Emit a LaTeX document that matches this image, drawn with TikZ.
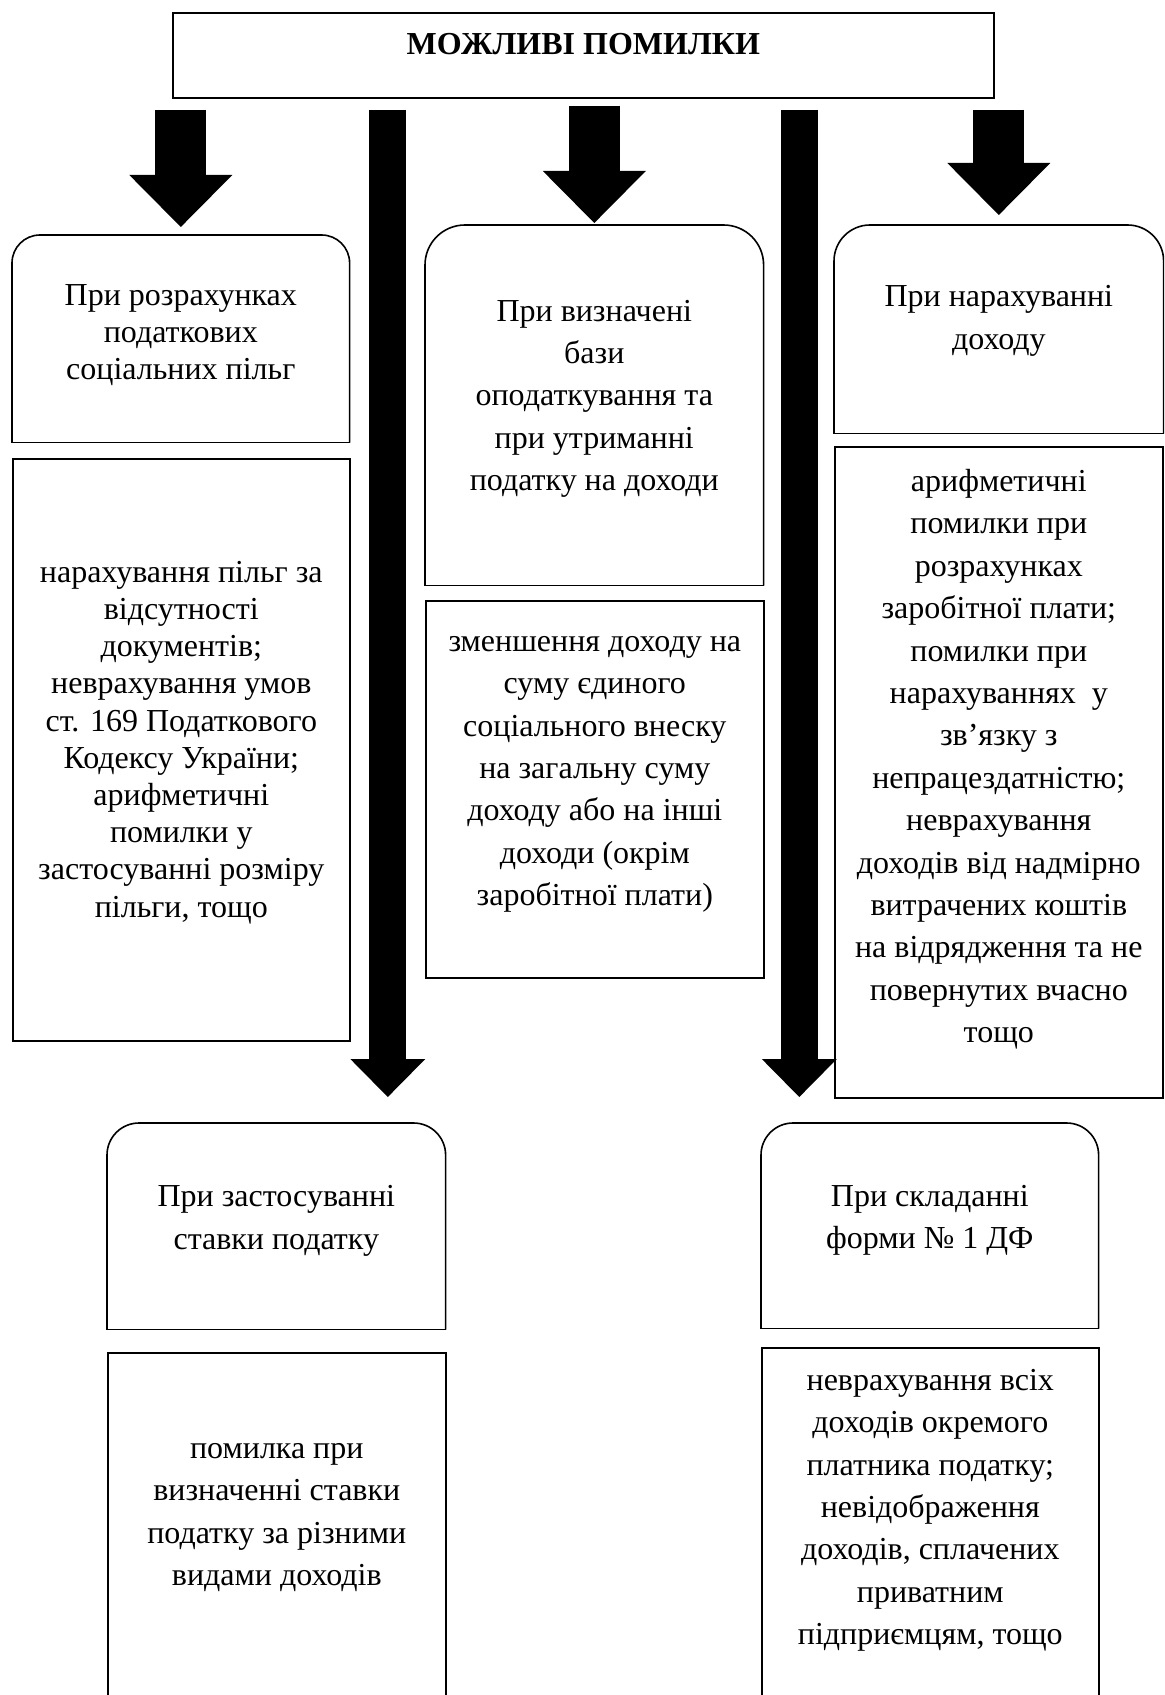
\documentclass[tikz,border=0pt]{standalone}
\usepackage{fontspec}
\setmainfont{Liberation Serif}
\usetikzlibrary{arrows.meta, positioning, calc}

\tikzset{
  box/.style={draw, line width=0.8pt, inner sep=0pt, align=center, anchor=north west,
    font=\fontsize{16}{21.2}\selectfont,
    execute at begin node=\strut, execute at end node=\strut},
  head/.style={box, draw=none},
  tight/.style={font=\fontsize{16}{18.6}\selectfont},
  dims/.style 2 args={minimum width=#1, minimum height=#2},
  lift/.style={text depth=#1},
  frame/.style={line width=0.8pt},
  fat/.style={line width=25.5pt, -{Triangle[length=26pt, width=51.5pt, line width=0pt]}, shorten <=5.5pt},
  bar/.style={line width=18.5pt, -{Triangle[length=19pt, width=37.5pt, line width=0pt]}, shorten <=5.5pt},
}

\begin{document}
\begin{tikzpicture}[x=1pt, y=-1pt]
    \useasboundingbox (0,0) rectangle (582,847.5);
    \clip (0,0) rectangle (582,847.5);
    % заголовок
    \node[box, dims={410.5pt}{42.5pt}, lift=15.7pt] (title) at (86,6) {\textbf{МОЖЛИВІ ПОМИЛКИ}};
    % ліва колонка
    \node[head, tight, dims={168pt}{103pt}, lift=6.9pt] (a1) at (6,117.5) {При розрахунках\\податкових\\соціальних пільг};
    \node[box, tight, dims={168.5pt}{291pt}, lift=10.7pt] (a2) at (6,229) {нарахування пільг за\\відсутності\\документів;\\неврахування умов\\ст. 169 Податкового\\Кодексу України;\\арифметичні\\помилки у\\застосуванні розміру\\пільги, тощо};
    % середня колонка
    \node[head, dims={168.5pt}{179.5pt}, lift=9.9pt] (b1) at (212.5,112.5) {При визначені\\бази\\оподаткування та\\при утриманні\\податку на доходи};
    \node[box, dims={169pt}{188.5pt}, lift=18.4pt] (b2) at (212.5,300) {зменшення доходу на\\суму єдиного\\соціального внеску\\на загальну суму\\доходу або на інші\\доходи (окрім\\заробітної плати)};
    % права колонка
    \node[head, dims={164pt}{103.5pt}, lift=11.9pt] (c1) at (417,112.5) {При нарахуванні\\доходу};
    \node[box, dims={164pt}{325.5pt}, lift=16.4pt] (c2) at (417,223) {арифметичні\\помилки при\\розрахунках\\заробітної плати;\\помилки при\\нарахуваннях\ \ у\\зв’язку з\\непрацездатністю;\\неврахування\\доходів від надмірно\\витрачених коштів\\на відрядження та не\\повернутих вчасно\\тощо};
    % нижній ряд
    \node[head, dims={168.5pt}{102.5pt}, lift=8.9pt] (d1) at (53.5,561.5) {При застосуванні\\ставки податку};
    \node[box, dims={169pt}{184pt}, lift=22.4pt] (d2) at (53.5,676) {помилка при\\визначенні ставки\\податку за різними\\видами доходів};
    \node[head, dims={168pt}{102pt}, lift=8.9pt] (e1) at (380.5,561.5) {При складанні\\форми № 1 ДФ};
    \node[box, dims={168.5pt}{186.5pt}, lift=27.5pt] (e2) at (380.5,673.5) {неврахування всіх\\доходів окремого\\платника податку;\\невідображення\\доходів, сплачених\\приватним\\підприємцям, тощо};
    % заокруглені верхні кути
    \foreach \n/\r in {a1/14pt, b1/20pt, c1/18pt, d1/16pt, e1/16pt}{
        \draw[frame, rounded corners=\r] (\n.south west) -- (\n.north west) -- (\n.north east) -- (\n.south east);
        \draw[frame, line cap=rect] (\n.south west) -- (\n.south east);
    }
    % стрілки
    \coordinate (gapL) at ($(a2.east)!0.5!(b2.west)$);
    \coordinate (gapR) at ($(b2.east)!0.5!(c2.west)$);
    \draw[fat, shorten >=4pt] (title.south -| a1.north) -- (a1.north);
    \draw[fat, shorten <=3.5pt, shorten >=1pt] (title.south -| b1.north) -- (b1.north);
    \draw[fat, shorten >=5pt] (title.south -| c1.north) -- (c1.north);
    \draw[bar, shorten >=13pt] (title.south -| gapL) -- (d1.north -| gapL);
    \draw[bar, shorten >=13pt] (title.south -| gapR) -- (e1.north -| gapR);
\end{tikzpicture}
\end{document}
